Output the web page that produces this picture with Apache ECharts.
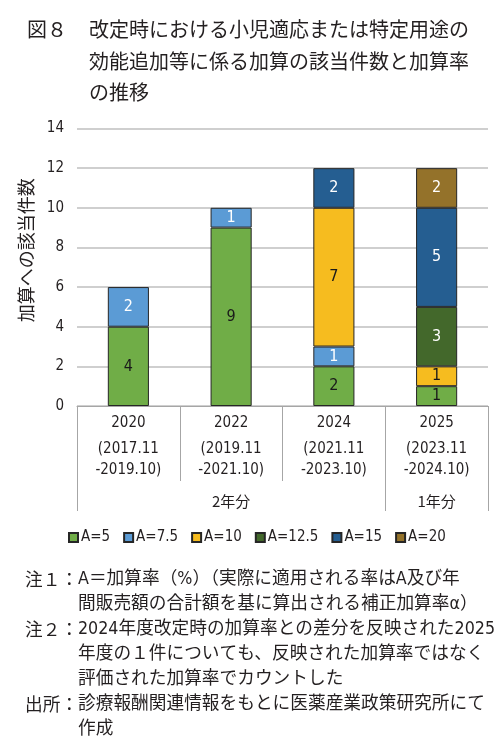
<!DOCTYPE html>
<html>
<head>
<meta charset="utf-8">
<script src="https://cdn.jsdelivr.net/npm/echarts@6/dist/echarts.min.js"></script>
<style>
  html, body { margin: 0; padding: 0; background: #fff; }
  #chart { width: 500px; height: 746px; }
</style>
</head>
<body>
<div id="chart"></div>
<script>
// データ
var years = ['2020', '2022', '2024', '2025'];
var periods = [['(2017.11', '-2019.10)'], ['(2019.11', '-2021.10)'], ['(2021.11', '-2023.10)'], ['(2023.11', '-2024.10)']];
var groupNames = ['2年分', '1年分'];
var groupSpans = [[0, 2], [3, 3]];
var seriesNames = ['A=5', 'A=7.5', 'A=10', 'A=12.5', 'A=15', 'A=20'];
var a5 = [4, 9, 2, 1];
var a75 = [2, 1, 1, null];
var a10 = [null, null, 7, 1];
var a125 = [null, null, null, 3];
var a15 = [null, null, 2, 5];
var a20 = [null, null, null, 2];
var yTicks = [0, 14, 2];

var colorList = ['#70AD47', '#5B9BD5', '#F6BC1F', '#43682B', '#255E91', '#94722A'];
var labelColors = ['#1a1a1a', '#ffffff', '#1a1a1a', '#ffffff', '#ffffff', '#ffffff'];
var narrow = "'DejaVu Sans Condensed', 'Roboto', 'Noto Sans CJK JP', sans-serif";
var jp = "'Noto Sans CJK JP', sans-serif";
var txt = '#231f20';

var myChart = echarts.init(document.getElementById('chart'));

var allData = [a5, a75, a10, a125, a15, a20];
var series = [];
for (var i = 0; i < seriesNames.length; i++) {
    series.push({
        name: seriesNames[i],
        type: 'bar',
        stack: 'total',
        barWidth: '40%',
        itemStyle: {
            color: colorList[i],
            borderColor: '#262626',
            borderWidth: 1
        },
        label: {
            show: true,
            position: 'inside',
            color: labelColors[i],
            fontFamily: narrow,
            fontSize: 16
        },
        data: allData[i]
    });
}

var option = {
    animation: false,
    title: [
        {
            text: '図８',
            left: 22, top: 14,
            textStyle: { fontFamily: jp, fontSize: 20, fontWeight: 'normal', color: txt }
        },
        {
            text: '改定時における小児適応または特定用途の\n効能追加等に係る加算の該当件数と加算率\nの推移',
            left: 84, top: 9,
            textStyle: { fontFamily: jp, fontSize: 20, fontWeight: 'normal', color: txt, lineHeight: 31.5 }
        },
        {
            text: '注１：\n\n注２：\n\n\n出所：',
            left: 20, top: 562,
            textStyle: { fontFamily: jp, fontSize: 17.7, fontWeight: 'normal', color: txt, lineHeight: 25 }
        },
        {
            text: 'A＝加算率（%）（実際に適用される率はA及び年\n間販売額の合計額を基に算出される補正加算率α）\n2024年度改定時の加算率との差分を反映された2025\n年度の１件についても、反映された加算率ではなく\n評価された加算率でカウントした\n診療報酬関連情報をもとに医薬産業政策研究所にて\n作成',
            left: 73, top: 562,
            textStyle: { fontFamily: "'DejaVu Sans Condensed', 'Noto Sans CJK JP', sans-serif", fontSize: 17.7, fontWeight: 'normal', color: txt, lineHeight: 25 }
        }
    ],
    legend: {
        data: seriesNames,
        left: 63, top: 525,
        itemWidth: 9, itemHeight: 9,
        itemGap: 13,
        icon: 'rect',
        textStyle: { fontFamily: narrow, fontSize: 15, color: txt, padding: [0, 0, 0, -2] }
    },
    grid: {
        left: 77, right: 12, top: 128.5, bottom: 340,
        containLabel: false
    },
    xAxis: {
        type: 'category',
        data: years,
        axisLine: { lineStyle: { color: '#a6a6a6', width: 1 } },
        axisTick: { show: true, length: 75, lineStyle: { color: '#a6a6a6', width: 1 } },
        axisLabel: {
            margin: 1,
            interval: 0,
            formatter: function (v, idx) {
                return '{y|' + v + '}\n{p|' + periods[idx][0] + '}\n{p|' + periods[idx][1] + '}';
            },
            rich: {
                y: { fontFamily: narrow, fontSize: 15, color: txt, lineHeight: 32 },
                p: { fontFamily: narrow, fontSize: 15, color: txt, lineHeight: 21 }
            }
        }
    },
    yAxis: {
        type: 'value',
        min: yTicks[0], max: yTicks[1], interval: yTicks[2],
        name: '加算への該当件数',
        nameLocation: 'middle',
        nameGap: 42,
        nameTextStyle: { fontFamily: jp, fontSize: 18, color: txt, padding: [0, 0, 0, 34] },
        axisLine: { show: false },
        axisTick: { show: false },
        axisLabel: { margin: 13, fontFamily: narrow, fontSize: 15, color: txt },
        splitLine: { lineStyle: { color: '#bfbfbf', width: 1.5 } }
    },
    series: series
};
myChart.setOption(option);

// 年分のグループ区切り線とラベル（軸から位置を計算）
var x0 = myChart.convertToPixel({ xAxisIndex: 0 }, years[0]);
var x1 = myChart.convertToPixel({ xAxisIndex: 0 }, years[1]);
var bandW = x1 - x0;
var yBase = myChart.convertToPixel({ yAxisIndex: 0 }, 0);
var graphics = [];
var edges = {};
groupSpans.forEach(function (span, g) {
    var left = myChart.convertToPixel({ xAxisIndex: 0 }, years[span[0]]) - bandW / 2;
    var right = myChart.convertToPixel({ xAxisIndex: 0 }, years[span[1]]) + bandW / 2;
    edges[left.toFixed(1)] = left;
    edges[right.toFixed(1)] = right;
    graphics.push({
        type: 'text',
        x: (left + right) / 2, y: yBase + 95,
        style: { text: groupNames[g], fontFamily: jp, fontSize: 15, fill: txt, textAlign: 'center', textVerticalAlign: 'middle' }
    });
});
Object.keys(edges).forEach(function (k) {
    var ex = Math.round(edges[k]) + 0.5;
    graphics.push({
        type: 'line',
        shape: { x1: ex, y1: yBase, x2: ex, y2: yBase + 105 },
        style: { stroke: '#a6a6a6', lineWidth: 1 }
    });
});
myChart.setOption({ graphic: graphics });
</script>
</body>
</html>
